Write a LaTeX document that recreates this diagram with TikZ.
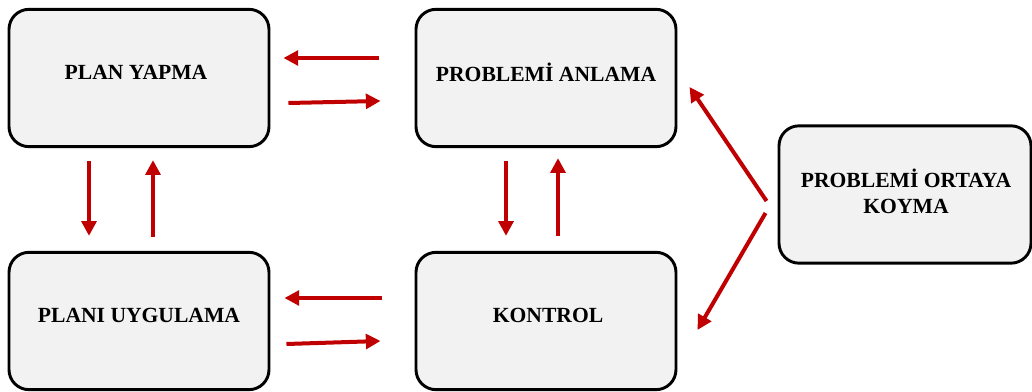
\documentclass[tikz,border=0pt]{standalone}
\usepackage{fontspec}
\setmainfont{Liberation Serif}
\usetikzlibrary{arrows.meta}
\definecolor{boxfill}{HTML}{F2F2F2}
\definecolor{flowred}{HTML}{C00000}
\begin{document}
\begin{tikzpicture}[x=0.75pt,y=-0.75pt,
  stagebox/.style={draw=black,line width=2.2pt,fill=boxfill,rounded corners=15pt,
    minimum width=195pt,minimum height=103pt,inner sep=0pt},
  stagetext/.style={font=\bfseries\fontsize{16.2}{20}\selectfont,align=center,text=black},
  flow/.style={draw=flowred,line width=3pt,-{Triangle[length=11pt,width=11pt]}}]
\useasboundingbox (0,0) rectangle (1032,392);
% stage boxes
\node[stagebox] (plan) at (139,78) {};
\node[stagebox] (anl) at (546,78) {};
\node[stagebox] (uyg) at (139,321) {};
\node[stagebox] (kon) at (546,321) {};
\node[stagebox,minimum width=189pt] (ort) at (905,194.5) {};
% stage titles
\node[stagetext] (plan-t) at ([shift={(-3,-6)}]plan.center) {PLAN YAPMA};
\node[stagetext] (anl-t) at ([shift={(0,-6)}]anl.center) {PROBLEMİ ANLAMA};
\node[stagetext] (uyg-t) at ([shift={(0,-6)}]uyg.center) {PLANI UYGULAMA};
\node[stagetext] (kon-t) at ([shift={(2,-6)}]kon.center) {KONTROL};
\node[stagetext] (ort-t) at ([shift={(1,-3)}]ort.center) {PROBLEMİ ORTAYA\\KOYMA};
% horizontal links
\draw[flow] ([shift={(-36,-20)}]anl.west) -- ([shift={(13,-20)}]plan.east);
\draw[flow] ([shift={(18,25)}]plan.east) -- ([shift={(-34,23)}]anl.west);
\draw[flow] ([shift={(-33,-23)}]kon.west) -- ([shift={(14,-23)}]uyg.east);
\draw[flow] ([shift={(16,23)}]uyg.east) -- ([shift={(-34,20)}]kon.west);
% vertical links
\draw[flow] ([shift={(-50,13)}]plan.south) -- ([shift={(-50,-15)}]uyg.north);
\draw[flow] ([shift={(14,-14)}]uyg.north) -- ([shift={(14,12)}]plan.south);
\draw[flow] ([shift={(-40,13)}]anl.south) -- ([shift={(-40,-15)}]kon.north);
\draw[flow] ([shift={(12,-15)}]kon.north) -- ([shift={(12,10)}]anl.south);
% links from the problem statement
\draw[flow] ([shift={(-11,6.5)}]ort.west) -- ([shift={(12,9)}]anl.east);
\draw[flow] ([shift={(-12,18.5)}]ort.west) -- ([shift={(20,9)}]kon.east);
\end{tikzpicture}
\end{document}
